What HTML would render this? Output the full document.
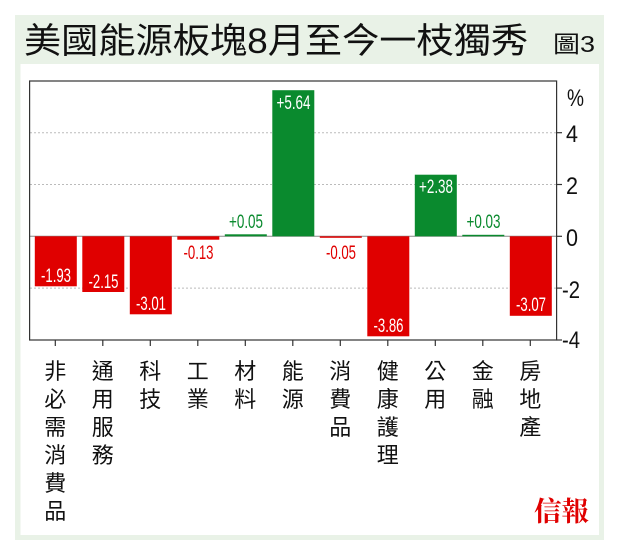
<!DOCTYPE html>
<html><head><meta charset="utf-8"><style>
html,body{margin:0;padding:0;background:#fff;}
svg{display:block;}
</style></head><body>
<svg width="620" height="554" xmlns="http://www.w3.org/2000/svg" font-family="Liberation Sans, Noto Sans CJK TC, sans-serif">
<rect x="0" y="0" width="620" height="554" fill="#fff"/>
<rect x="15" y="15" width="589" height="525" fill="#e9f2e7"/>
<rect x="20.5" y="64" width="578.5" height="471" fill="#fff"/>
<text x="24" y="53" font-size="35" fill="#111" textLength="504" lengthAdjust="spacingAndGlyphs" font-family="Liberation Sans, Noto Sans CJK TC, sans-serif">美國能源板塊8月至今一枝獨秀</text>
<text x="553" y="52" font-size="23" fill="#111" textLength="42" lengthAdjust="spacingAndGlyphs">圖3</text>

<g stroke="#bbb" stroke-width="1" stroke-dasharray="2,2">
<line x1="30" x2="556" y1="132.7" y2="132.7"/>
<line x1="30" x2="556" y1="184.5" y2="184.5"/>
<line x1="30" x2="556" y1="288.1" y2="288.1"/>
</g>
<line x1="30" x2="556" y1="236.3" y2="236.3" stroke="#888" stroke-width="1"/>

<g>
<rect x="34.8" y="236.3" width="42" height="50" fill="#e00000"/>
<rect x="82.3" y="236.3" width="42" height="55.7" fill="#e00000"/>
<rect x="129.8" y="236.3" width="42" height="78" fill="#e00000"/>
<rect x="177.3" y="236.3" width="42" height="3.4" fill="#e00000"/>
<rect x="224.8" y="234.3" width="42" height="2" fill="#0a8a2e"/>
<rect x="272.3" y="90.2" width="42" height="146.1" fill="#0a8a2e"/>
<rect x="319.8" y="236.3" width="42" height="1.5" fill="#e00000"/>
<rect x="367.3" y="236.3" width="42" height="100" fill="#e00000"/>
<rect x="414.8" y="174.7" width="42" height="61.6" fill="#0a8a2e"/>
<rect x="462.3" y="234.8" width="42" height="1.5" fill="#0a8a2e"/>
<rect x="509.8" y="236.3" width="42" height="79.5" fill="#e00000"/>
</g>

<g font-size="19" text-anchor="middle" lengthAdjust="spacingAndGlyphs">
<text x="56" y="282" fill="#fff" textLength="30" lengthAdjust="spacingAndGlyphs">-1.93</text>
<text x="103.5" y="288" fill="#fff" textLength="30" lengthAdjust="spacingAndGlyphs">-2.15</text>
<text x="151" y="310" fill="#fff" textLength="30" lengthAdjust="spacingAndGlyphs">-3.01</text>
<text x="198.5" y="259" fill="#e00000" textLength="30" lengthAdjust="spacingAndGlyphs">-0.13</text>
<text x="246" y="228" fill="#0a8a2e" textLength="34" lengthAdjust="spacingAndGlyphs">+0.05</text>
<text x="293.5" y="109" fill="#fff" textLength="34" lengthAdjust="spacingAndGlyphs">+5.64</text>
<text x="341" y="259" fill="#e00000" textLength="30" lengthAdjust="spacingAndGlyphs">-0.05</text>
<text x="388.5" y="332" fill="#fff" textLength="30" lengthAdjust="spacingAndGlyphs">-3.86</text>
<text x="436" y="193" fill="#fff" textLength="34" lengthAdjust="spacingAndGlyphs">+2.38</text>
<text x="483.5" y="228" fill="#0a8a2e" textLength="34" lengthAdjust="spacingAndGlyphs">+0.03</text>
<text x="531" y="311" fill="#fff" textLength="30" lengthAdjust="spacingAndGlyphs">-3.07</text>
</g>

<rect x="29.6" y="81" width="527" height="259" fill="none" stroke="#333" stroke-width="1.2"/>
<g stroke="#333" stroke-width="1.2">
<line x1="556.5" x2="562" y1="132.7" y2="132.7"/>
<line x1="556.5" x2="562" y1="184.5" y2="184.5"/>
<line x1="556.5" x2="562" y1="236.3" y2="236.3"/>
<line x1="556.5" x2="562" y1="288.1" y2="288.1"/>
<line x1="556.5" x2="562" y1="340" y2="340"/>
</g>
<g font-size="24" fill="#111">
<text x="567" y="106" textLength="17" lengthAdjust="spacingAndGlyphs">%</text>
<text x="566" y="142" textLength="12" lengthAdjust="spacingAndGlyphs">4</text>
<text x="566" y="194" textLength="12" lengthAdjust="spacingAndGlyphs">2</text>
<text x="566" y="246" textLength="12" lengthAdjust="spacingAndGlyphs">0</text>
<text x="562" y="298" textLength="18" lengthAdjust="spacingAndGlyphs">-2</text>
<text x="562" y="348" textLength="18" lengthAdjust="spacingAndGlyphs">-4</text>
</g>
<g stroke="#333" stroke-width="1.2">
<line x1="55.3" x2="55.3" y1="340" y2="346"/>
<line x1="102.8" x2="102.8" y1="340" y2="346"/>
<line x1="150.3" x2="150.3" y1="340" y2="346"/>
<line x1="197.8" x2="197.8" y1="340" y2="346"/>
<line x1="245.3" x2="245.3" y1="340" y2="346"/>
<line x1="292.8" x2="292.8" y1="340" y2="346"/>
<line x1="340.3" x2="340.3" y1="340" y2="346"/>
<line x1="387.8" x2="387.8" y1="340" y2="346"/>
<line x1="435.3" x2="435.3" y1="340" y2="346"/>
<line x1="482.8" x2="482.8" y1="340" y2="346"/>
<line x1="530.3" x2="530.3" y1="340" y2="346"/>
</g>
<g font-size="22" fill="#111" text-anchor="middle">
<text x="55.3" y="379">非</text><text x="55.3" y="407">必</text><text x="55.3" y="435">需</text><text x="55.3" y="463">消</text><text x="55.3" y="491">費</text><text x="55.3" y="519">品</text>
<text x="102.8" y="379">通</text><text x="102.8" y="407">用</text><text x="102.8" y="435">服</text><text x="102.8" y="463">務</text>
<text x="150.3" y="379">科</text><text x="150.3" y="407">技</text>
<text x="197.8" y="379">工</text><text x="197.8" y="407">業</text>
<text x="245.3" y="379">材</text><text x="245.3" y="407">料</text>
<text x="292.8" y="379">能</text><text x="292.8" y="407">源</text>
<text x="340.3" y="379">消</text><text x="340.3" y="407">費</text><text x="340.3" y="435">品</text>
<text x="387.8" y="379">健</text><text x="387.8" y="407">康</text><text x="387.8" y="435">護</text><text x="387.8" y="463">理</text>
<text x="435.3" y="379">公</text><text x="435.3" y="407">用</text>
<text x="482.8" y="379">金</text><text x="482.8" y="407">融</text>
<text x="530.3" y="379">房</text><text x="530.3" y="407">地</text><text x="530.3" y="435">產</text>
</g>
<text x="534" y="521" font-size="27" font-weight="bold" fill="#e00000" font-family="Liberation Serif, Noto Serif CJK SC, serif" textLength="55" lengthAdjust="spacingAndGlyphs">信報</text>
</svg>
</body></html>
